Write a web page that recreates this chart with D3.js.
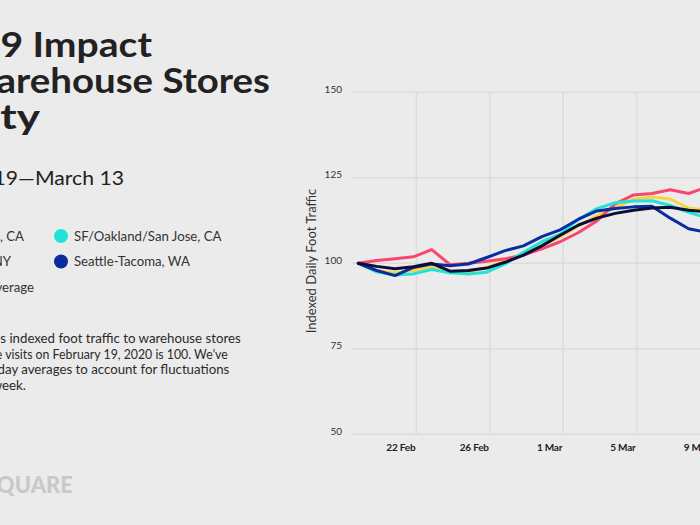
<!DOCTYPE html>
<html><head><meta charset="utf-8">
<script src="https://cdn.jsdelivr.net/npm/d3@7"></script>
<style>html,body{margin:0;padding:0;background:#ebebeb;overflow:hidden}svg{display:block}</style>
</head><body><svg id="c" width="700" height="525"></svg>
<script>
const dates = ["2020-02-19","2020-02-20","2020-02-21","2020-02-22","2020-02-23","2020-02-24","2020-02-25","2020-02-26","2020-02-27","2020-02-28","2020-02-29","2020-03-01","2020-03-02","2020-03-03","2020-03-04","2020-03-05","2020-03-06","2020-03-07","2020-03-08","2020-03-09"];
const losAngeles = [100, 100.8, 101.3, 101.9, 104.0, 99.6, 100.0, 100.6, 101.3, 102.4, 104.2, 106.3, 109.0, 112.4, 117.4, 120.0, 120.4, 121.5, 120.4, 122.3];
const newYork    = [100, 97.9, 97.2, 97.9, 98.8, 97.2, 97.6, 98.8, 100.8, 102.7, 105.1, 107.8, 110.9, 113.9, 116.3, 118.7, 119.4, 118.8, 116.1, 115.6];
const sfBay      = [100, 97.5, 96.6, 96.9, 98.2, 97.2, 96.9, 97.4, 99.8, 103.2, 106.3, 108.5, 112.9, 116.0, 117.7, 118.2, 118.3, 116.9, 114.9, 113.3];
const seattle    = [100, 97.9, 96.4, 98.8, 99.8, 99.3, 99.8, 101.7, 103.7, 105.1, 107.8, 109.8, 112.9, 115.3, 116.0, 116.5, 116.7, 113.2, 110.1, 109.0];
const national   = [100, 99.1, 98.4, 99.0, 100.0, 97.7, 97.9, 98.6, 100.3, 102.4, 105.1, 108.2, 111.2, 113.2, 114.6, 115.5, 116.2, 116.4, 115.5, 115.0];
const yTicks = [50, 75, 100, 125, 150];
const xTickDates = ["2020-02-22","2020-02-26","2020-03-01","2020-03-05","2020-03-09"];
const seriesNames = ["Los Angeles, CA","New York, NY","National Average","SF/Oakland/San Jose, CA","Seattle-Tacoma, WA"];
const seriesColors = ["#f7476f","#fbd13c","#0b0e36","#22e4d6","#0b2c9f"];

const F = "Lato, 'Noto Sans', sans-serif";
const svg = d3.select("#c");
const parse = d3.utcParse("%Y-%m-%d");
const D = dates.map(parse);

const x = d3.scaleUtc().domain([D[0], D[D.length-1]]).range([358.3, 707]);
const y = d3.scaleLinear().domain([50, 150]).range([434.3, 92.3]);

// helper: text anchored at its right edge, stretched horizontally
function stretchText(str, xe, yb, sx, size, weight, fill, anchor) {
  return svg.append("text")
    .attr("transform", `translate(${xe},${yb}) scale(${sx},1)`)
    .attr("text-anchor", anchor || "end")
    .attr("font-family", F).attr("font-size", size).attr("font-weight", weight)
    .attr("fill", fill).text(str);
}

// grid
const g = svg.append("g");
g.selectAll(".hg").data(yTicks).join("line")
  .attr("x1", 352).attr("x2", 760).attr("y1", d => y(d)).attr("y2", d => y(d))
  .attr("stroke", "#dcdcdc").attr("stroke-width", 1.5);
const tickD = xTickDates.map(s => d3.utcHour.offset(parse(s), 4));
g.selectAll(".vg").data(tickD).join("line")
  .attr("x1", d => x(d)).attr("x2", d => x(d)).attr("y1", y(150)).attr("y2", y(50))
  .attr("stroke", "#dcdcdc").attr("stroke-width", 1.5);

// axis labels
svg.selectAll(".yl").data(yTicks).join("text")
  .attr("x", 342).attr("y", d => y(d) + 0.5).attr("text-anchor", "end")
  .attr("font-family", F).attr("font-size", 10).attr("fill", "#333").text(d => d);
const fmt = d3.utcFormat("%-d %b");
svg.selectAll(".xl").data(tickD).join("text")
  .attr("x", d => x(d) - 1).attr("y", 451).attr("text-anchor", "end")
  .attr("font-family", F).attr("font-size", 10).attr("font-weight", 700).attr("fill", "#222")
  .attr("letter-spacing", -0.2)
  .text(d => fmt(d));
svg.append("text").attr("transform", "translate(316,261) rotate(-90)")
  .attr("text-anchor", "middle").attr("font-family", F).attr("font-size", 13).attr("fill", "#333")
  .text("Indexed Daily Foot Traffic");

// lines
const line = d3.line().x((d, i) => x(D[i])).y(d => y(d));
const drawOrder = [
  [newYork, seriesColors[1]], [losAngeles, seriesColors[0]], [sfBay, seriesColors[3]],
  [seattle, seriesColors[4]], [national, seriesColors[2]]
];
drawOrder.forEach(([vals, col]) => {
  svg.append("path").datum(vals).attr("d", line).attr("fill", "none")
    .attr("stroke", col).attr("stroke-width", 3).attr("stroke-linejoin", "round").attr("stroke-linecap", "round");
});

// title
stretchText("COVID-19 Impact", 152, 57, 1.15, 34, 700, "#222");
stretchText("on Warehouse Stores", 270, 93, 1.13, 34, 700, "#222");
stretchText("by City", 40, 129, 1.3, 34, 700, "#222");
stretchText("February 19\u2014March 13", 124, 185, 1.06, 20, 400, "#222");

// legend
stretchText(seriesNames[0], 24, 240.5, 1.0, 13.2, 400, "#333");
stretchText(seriesNames[1], 11, 266, 1.0, 13.2, 400, "#333");
stretchText(seriesNames[2], 34, 291.5, 1.0, 13.2, 400, "#333");
[[3, 236], [4, 261.5]].forEach(([i, cy]) => {
  svg.append("circle").attr("cx", 61).attr("cy", cy).attr("r", 7).attr("fill", seriesColors[i]);
  svg.append("text").attr("x", 74).attr("y", cy + 4.8)
    .attr("font-family", F).attr("font-size", 13.2).attr("fill", "#333").text(seriesNames[i]);
});

// description
stretchText("This chart compares indexed foot traffic to warehouse stores", 240.7, 343, 1.06, 12.5, 400, "#2a2a2a");
stretchText("in each market, where visits on February 19, 2020 is 100. We\u2019ve", 227.7, 358.5, 0.985, 12.5, 400, "#2a2a2a");
stretchText("used seven-day averages to account for fluctuations", 229.3, 374, 1.06, 12.5, 400, "#2a2a2a");
stretchText("through the week.", 26, 389.5, 1.065, 12.5, 400, "#2a2a2a");

// logo
stretchText("FOURSQUARE", 73, 493, 1.0, 22, 900, "#c9c9c9");
</script></body></html>
